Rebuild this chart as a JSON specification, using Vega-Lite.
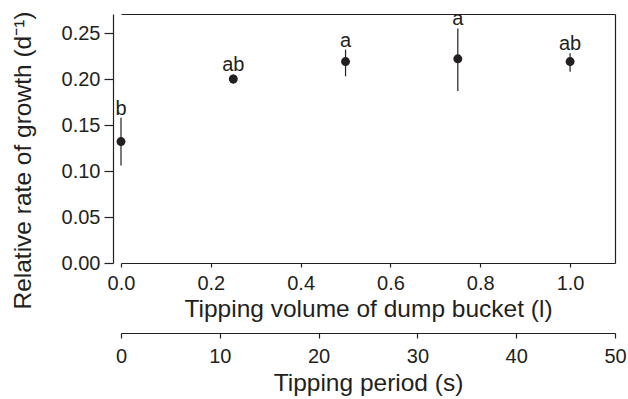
{
  "$schema": "https://vega.github.io/schema/vega-lite/v6.json",
  "width": 494,
  "height": 249,
  "autosize": "none",
  "padding": {"left": 121, "top": 14, "right": 13, "bottom": 136},
  "background": "white",
  "config": {
    "view": {"stroke": null},
    "font": "Liberation Sans",
    "axis": {
      "grid": false,
      "labelFont": "Liberation Sans",
      "titleFont": "Liberation Sans",
      "titleFontWeight": "normal",
      "labelFontSize": 20,
      "titleFontSize": 24.5,
      "labelColor": "#231f20",
      "titleColor": "#231f20",
      "domainColor": "#231f20",
      "tickColor": "#231f20",
      "domainWidth": 1.2,
      "tickWidth": 1.2
    }
  },
  "data": {
    "values": [
      {"volume": 0.0, "period": 0.0, "mean": 0.132, "lo": 0.106, "hi": 0.158, "group": "b"},
      {"volume": 0.25, "period": 11.4, "mean": 0.2, "lo": 0.195, "hi": 0.205, "group": "ab"},
      {"volume": 0.5, "period": 22.7, "mean": 0.219, "lo": 0.203, "hi": 0.232, "group": "a"},
      {"volume": 0.75, "period": 34.1, "mean": 0.222, "lo": 0.187, "hi": 0.255, "group": "a"},
      {"volume": 1.0, "period": 45.5, "mean": 0.219, "lo": 0.208, "hi": 0.228, "group": "ab"}
    ]
  },
  "layer": [
    {
      "mark": {"type": "rule", "color": "#231f20", "strokeWidth": 1.2},
      "encoding": {
        "x": {
          "field": "volume", "type": "quantitative",
          "scale": {"domain": [0, 1.1], "nice": false, "zero": false},
          "axis": {
            "orient": "bottom",
            "values": [0, 0.2, 0.4, 0.6, 0.8, 1.0],
            "format": ".1f",
            "tickSize": 4,
            "labelPadding": 6,
            "labelFlush": false,
            "labelOverlap": false,
            "title": "Tipping volume of dump bucket (l)",
            "titlePadding": 4
          }
        },
        "y": {
          "field": "lo", "type": "quantitative",
          "scale": {"domain": [0, 0.2707], "nice": false, "zero": false},
          "axis": {
            "orient": "left",
            "offset": 8,
            "values": [0, 0.05, 0.1, 0.15, 0.2, 0.25],
            "format": ".2f",
            "tickSize": 9,
            "labelPadding": 4,
            "labelFlush": false,
            "labelOverlap": false,
            "title": "Relative rate of growth (d⁻¹)",
            "titlePadding": 26,
            "titleY": 146
          }
        },
        "y2": {"field": "hi"}
      }
    },
    {
      "mark": {"type": "point", "shape": "circle", "filled": true, "size": 80, "color": "#231f20", "opacity": 1},
      "encoding": {
        "x": {
          "field": "volume", "type": "quantitative",
          "scale": {"domain": [0, 1.1], "nice": false, "zero": false},
          "axis": {"orient": "top", "ticks": false, "labels": false, "title": null, "domain": true}
        },
        "y": {
          "field": "mean", "type": "quantitative",
          "axis": {"orient": "right", "ticks": false, "labels": false, "title": null, "domain": true}
        }
      }
    },
    {
      "mark": {"type": "text", "baseline": "alphabetic", "align": "center", "dy": -3, "fontSize": 20, "font": "Liberation Sans", "color": "#231f20"},
      "encoding": {
        "x": {
          "field": "volume", "type": "quantitative",
          "scale": {"domain": [0, 1.1], "nice": false, "zero": false},
          "axis": null
        },
        "y": {"field": "hi", "type": "quantitative", "axis": null},
        "text": {"field": "group", "type": "nominal"}
      }
    },
    {
      "mark": {"type": "point", "opacity": 0},
      "encoding": {
        "x": {
          "field": "period", "type": "quantitative",
          "scale": {"domain": [0, 50], "nice": false, "zero": false},
          "axis": {
            "orient": "bottom",
            "offset": 70,
            "values": [0, 10, 20, 30, 40, 50],
            "format": "d",
            "tickSize": 5,
            "labelPadding": 8,
            "labelFlush": false,
            "labelOverlap": false,
            "title": "Tipping period (s)",
            "titlePadding": 5
          }
        },
        "y": {"field": "mean", "type": "quantitative", "axis": null}
      }
    }
  ],
  "resolve": {
    "scale": {"x": "independent"},
    "axis": {"x": "independent", "y": "independent"}
  }
}
